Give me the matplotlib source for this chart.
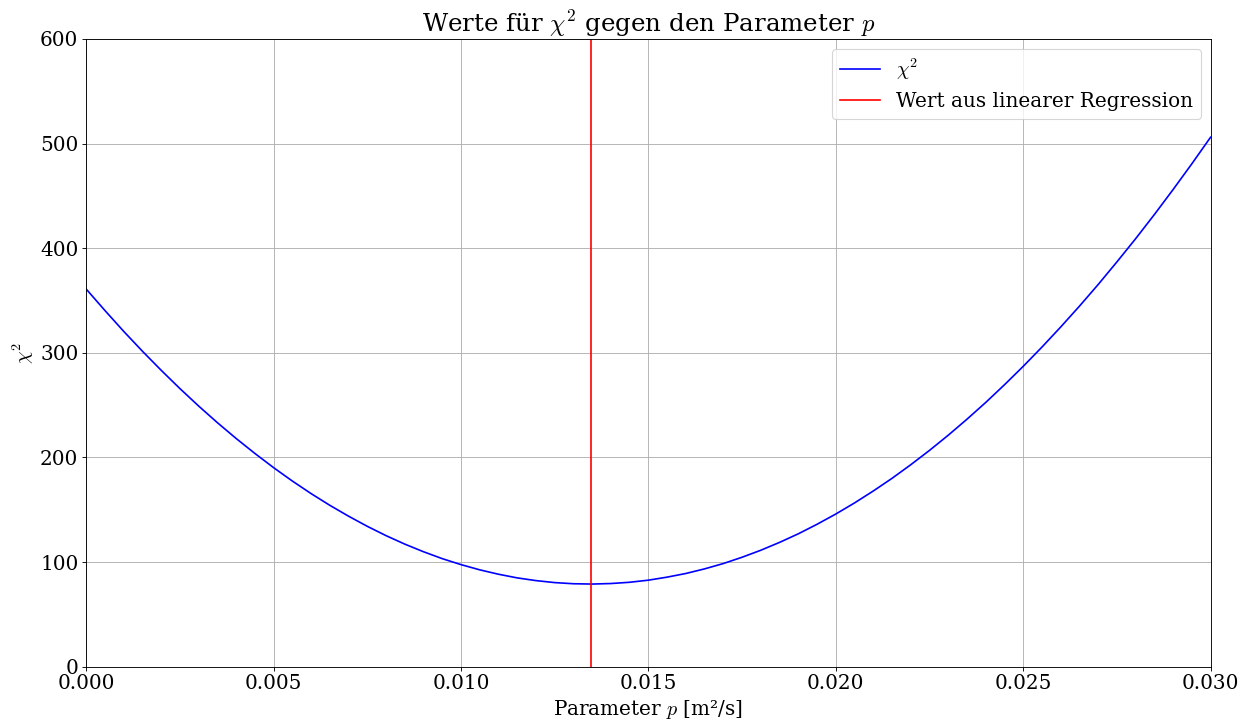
import numpy as np
import matplotlib
matplotlib.use("Agg")
import matplotlib.pyplot as plt

# === Settings ===
plt.rcParams['font.family'] = 'serif'
plt.rcParams['font.serif'] = ['DejaVu Serif']
plt.rcParams['mathtext.fontset'] = 'cm'
plt.rcParams['font.size'] = 18

# === Data ===
p_values = [0.0000, 0.0005, 0.0010, 0.0015, 0.0020, 0.0025, 0.0030, 0.0035, 0.0040, 0.0045,
            0.0050, 0.0055, 0.0060, 0.0065, 0.0070, 0.0075, 0.0080, 0.0085, 0.0090, 0.0095,
            0.0100, 0.0105, 0.0110, 0.0115, 0.0120, 0.0125, 0.0130, 0.0135, 0.0140, 0.0145,
            0.0150, 0.0155, 0.0160, 0.0165, 0.0170, 0.0175, 0.0180, 0.0185, 0.0190, 0.0195,
            0.0200, 0.0205, 0.0210, 0.0215, 0.0220, 0.0225, 0.0230, 0.0235, 0.0240, 0.0245,
            0.0250, 0.0255, 0.0260, 0.0265, 0.0270, 0.0275, 0.0280, 0.0285, 0.0290, 0.0295,
            0.0300]
chi2_values = [361.0, 340.5, 320.6, 301.6, 283.4, 265.9, 249.2, 233.3, 218.2, 203.9,
               190.3, 177.5, 165.5, 154.3, 143.9, 134.2, 125.3, 117.2, 109.9, 103.3,
               97.6, 92.6, 88.4, 84.9, 82.3, 80.4, 79.3, 79.0, 79.5, 80.7,
               82.7, 85.6, 89.1, 93.5, 98.6, 104.6, 111.3, 118.8, 127.0, 136.1,
               145.9, 156.5, 167.9, 180.0, 193.0, 206.7, 221.2, 236.5, 252.5, 269.4,
               287.0, 305.4, 324.6, 344.5, 365.2, 386.8, 409.0, 432.1, 456.0, 480.6,
               506.0]
p_regression = 0.01347

# === Plot ===
fig, ax = plt.subplots(figsize=(15.6, 9), dpi=80)
ax.plot(p_values, chi2_values, color='blue', lw=1.5, label=r'$\chi^2$')
ax.axvline(p_regression, color='red', lw=1.5, label='Wert aus linearer Regression')

ax.set_xlim(0, 0.030)
ax.set_ylim(0, 600)
ax.set_title(r'Werte für $\chi^2$ gegen den Parameter $p$', fontsize=22)
ax.set_xlabel(r'Parameter $p$ [m²/s]')
ax.set_ylabel(r'$\chi^2$')
ax.legend(loc='upper right')
ax.grid(True)

plt.subplots_adjust(left=0.069, right=0.970, bottom=0.074, top=0.946)
plt.savefig("out.png")
